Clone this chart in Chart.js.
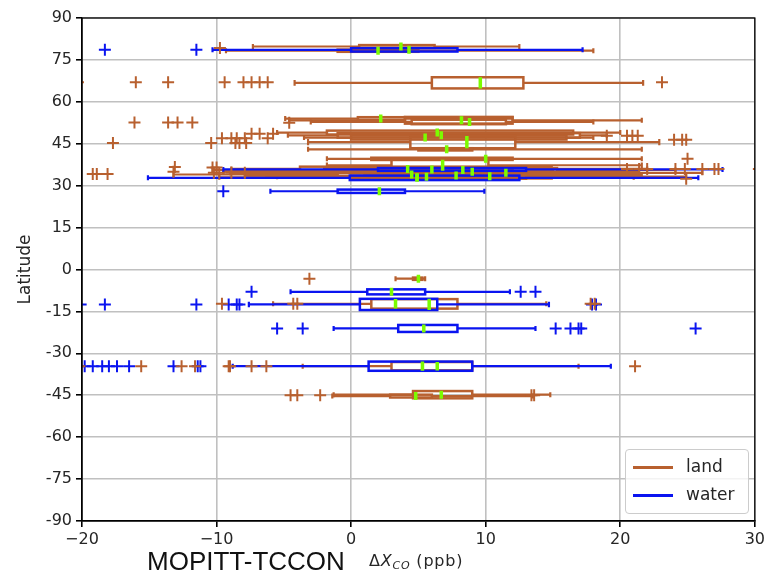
<!DOCTYPE html>
<html>
<head>
<meta charset="utf-8">
<title>MOPITT-TCCON ΔXco by latitude</title>
<script src="https://cdn.jsdelivr.net/npm/chart.js@4.4.1/dist/chart.umd.min.js"></script>
<style>
  html, body { margin: 0; padding: 0; background: #fff; }
  #wrap { position: relative; width: 768px; height: 582px; }
  #chart { position: absolute; left: 0; top: 0; }
  .legend {
    position: absolute; left: 625px; top: 449px; width: 122px; height: 63px;
    border: 1px solid #cccccc; border-radius: 4px; background: rgba(255,255,255,0.8);
    font-family: "DejaVu Sans", sans-serif; font-size: 17px; color: #262626;
  }
  .legend .row { position: absolute; left: 0; height: 20px; line-height: 20px; }
  .legend .swatch { position: absolute; left: 7px; top: 9px; width: 40px; height: 3px; }
  .legend .lbl { position: absolute; left: 60px; top: -1px; white-space: nowrap; }
  .xtitle {
    position: absolute; left: 147px; top: 546px; white-space: nowrap;
    font-family: "Liberation Sans", Arial, sans-serif; font-size: 26px; line-height: 30px; color: #111;
  }
  .xunit {
    position: absolute; left: 369px; top: 552px; white-space: nowrap; letter-spacing: 0.8px;
    font-family: "DejaVu Sans", sans-serif; font-size: 16px; line-height: 18px; color: #262626;
  }
  .xunit i { font-style: italic; }
  .xunit sub { font-size: 11px; font-style: italic; vertical-align: -3px; line-height: 0; }
</style>
</head>
<body>
<div id="wrap">
  <canvas id="chart" width="768" height="582"></canvas>
  <div class="legend">
    <div class="row" style="top:7px"><span class="swatch" style="background:#b8602f"></span><span class="lbl">land</span></div>
    <div class="row" style="top:35px"><span class="swatch" style="background:#0a14f0"></span><span class="lbl">water</span></div>
  </div>
  <div class="xtitle">MOPITT-TCCON</div>
  <div class="xunit">Δ<i>X</i><sub>CO</sub> (ppb)</div>
</div>
<script>
// Ticks
const xTicks = [-20, -10, 0, 10, 20, 30];
const latTicks = [90, 75, 60, 45, 30, 15, 0, -15, -30, -45, -60, -75, -90];

// Land sites: box statistics per latitude (ppb), span = box height in degrees
const landLat  = [79.8, 78.3, 66.8, 54.0, 53.4, 52.8, 49.0, 48.0, 47.2, 45.6, 43.0, 39.6, 37.3, 36.0, 35.6, 35.0, 34.6, 34.0, 33.6, 33.4, 33.2, 33.0, -3.3, -12.3, -34.6, -45.3, -44.8];
const landLow  = [-7.3, -9.3, -4.2, -4.9, -4.6, -3.0, -5.5, -4.7, -3.5, -3.2, -3.2, -1.8, -1.8, -8.9, -10.3, -9.5, -9.0, -13.2, -7.9, -6.3, -5.5, -9.8, 3.3, -5.8, -3.6, -1.4, -1.3];
const landQ1   = [0.6, -1.0, 6.0, 0.5, 4.0, 4.5, -1.8, -1.0, 0.0, 4.4, 5.0, 1.5, 3.0, -3.8, -2.0, 2.0, 5.0, -1.0, 3.0, 2.5, 1.0, 0.0, 4.6, 1.5, 3.0, 2.9, 4.6];
const landMed  = [3.7, 2.0, 9.6, 2.2, 8.2, 8.8, 6.4, 6.7, 5.5, 8.6, 7.1, 10.0, 6.8, 4.2, 8.3, 9.0, 11.5, 4.5, 7.8, 10.3, 5.6, 4.9, 5.0, 3.3, 6.4, 4.8, 6.7];
const landQ3   = [6.2, 5.0, 12.8, 4.0, 12.0, 11.5, 16.5, 17.0, 16.0, 12.2, 9.0, 12.0, 10.2, 14.9, 15.3, 12.0, 15.0, 11.0, 12.0, 14.9, 13.0, 9.0, 5.3, 7.9, 9.0, 6.0, 9.0];
const landHigh = [12.5, 18.0, 21.7, 12.0, 21.6, 18.0, 20.0, 19.0, 18.0, 22.9, 21.6, 21.6, 21.6, 22.0, 24.1, 21.4, 26.1, 21.5, 21.6, 20.5, 24.9, 21.0, 5.5, 14.5, 16.9, 13.5, 14.8];
const landSpan = [1.0, 0.8, 4.0, 1.0, 2.4, 1.6, 1.4, 1.6, 1.4, 4.4, 0.8, 0.8, 4.0, 1.6, 1.4, 1.6, 1.4, 1.8, 1.6, 1.6, 1.4, 1.2, 0.8, 3.4, 3.0, 1.0, 2.6];

// Ocean sites
const waterLat  = [78.6, 35.8, 32.8, 28.0, -8.0, -12.5, -21.1, -34.6];
const waterLow  = [-10.3, -9.5, -15.1, -6.0, -4.5, -7.6, -1.3, -8.8];
const waterQ1   = [0.0, 2.0, -0.1, -1.0, 1.2, 0.65, 3.5, 1.3];
const waterMed  = [4.3, 6.0, 4.9, 2.1, 3.0, 5.8, 5.4, 5.3];
const waterQ3   = [7.9, 13.0, 12.5, 4.0, 5.5, 6.4, 7.9, 9.0];
const waterHigh = [17.2, 27.6, 25.8, 9.9, 11.8, 14.7, 13.7, 19.3];
const waterSpan = [1.2, 1.0, 1.6, 1.2, 1.8, 4.0, 2.5, 3.3];

// Outliers (ΔXco, latitude)
const landOutX = [-9.75,
  -20.3, -16.0, -13.6, -9.4, -8.0, -7.4, -6.8, -6.2, 23.1,
  -16.1, -13.6, -12.9, -11.8, -4.6,
  -7.4, -6.8, -5.8,
  -9.6, -8.9, -8.5, -7.9, -6.2,
  -17.7, -10.4, -8.6, -8.3, -7.8,
  19.0, 20.5, 20.9, 21.3,
  24.0, 24.6, 24.9,
  25.0,
  -13.1, -13.2, -10.3, -10.0, -10.2, -9.8, -8.9, -7.9,
  -19.2, -18.9, -18.1,
  20.5, 21.4, 22.0, 24.1, 24.8, 26.1, 27.0, 27.3, 30.3,
  24.9,
  -3.1,
  -9.6, -4.3, -4.0, 17.8, 18.1,
  -20.2, -15.6, -12.6, -11.6, -9.1, -9.0, -7.4, -6.3, 21.1,
  -4.5, -4.0, -2.3, 13.4, 13.6];
const landOutLat = [79.3,
  67.0, 67.0, 67.0, 67.0, 67.0, 67.0, 67.0, 67.0, 67.0,
  52.6, 52.6, 52.6, 52.6, 52.5,
  48.6, 48.6, 48.6,
  47.0, 47.0, 47.0, 47.0, 47.0,
  45.3, 45.3, 45.3, 45.3, 45.3,
  47.9, 47.9, 47.9, 47.9,
  46.4, 46.4, 46.4,
  39.6,
  36.7, 35.0, 36.5, 36.5, 34.6, 34.6, 34.6, 34.6,
  34.2, 34.2, 34.2,
  36.0, 36.0, 36.0, 36.0, 36.0, 36.0, 36.0, 36.0, 36.0,
  32.5,
  -3.3,
  -12.3, -12.3, -12.3, -12.3, -12.3,
  -34.6, -34.6, -34.6, -34.6, -34.6, -34.6, -34.6, -34.6, -34.6,
  -45.0, -45.0, -45.0, -45.0, -45.0];

const waterOutX = [-18.3, -11.5,
  -9.5,
  -7.4, 12.6, 13.7,
  -20.1, -18.3, -11.5, -9.1, -8.5, -8.3, 17.9, 18.2,
  -5.5, -3.6, 15.2, 16.3, 16.9, 17.1, 25.6,
  -19.8, -19.2, -18.5, -18.0, -17.4, -16.5, -13.2, -11.4, -11.2];
const waterOutLat = [78.6, 78.6,
  28.0,
  -8.0, -8.0, -8.0,
  -12.5, -12.5, -12.5, -12.5, -12.5, -12.5, -12.5, -12.5,
  -21.1, -21.1, -21.1, -21.1, -21.1, -21.1, -21.1,
  -34.6, -34.6, -34.6, -34.6, -34.6, -34.6, -34.6, -34.6, -34.6];

const LAND = '#b8602f';
const WATER = '#0a14f0';
const MEDIAN = '#7cfc00';

function toPoints(xs, ys) {
  return xs.map((x, i) => ({ x: x, y: ys[i] }));
}

function makeSeries(lat, low, q1, med, q3, high, span, color) {
  return lat.map((l, i) => ({ lat: l, low: low[i], q1: q1[i], med: med[i], q3: q3[i], high: high[i], span: span[i], color: color }));
}

const landBoxes = makeSeries(landLat, landLow, landQ1, landMed, landQ3, landHigh, landSpan, LAND);
const waterBoxes = makeSeries(waterLat, waterLow, waterQ1, waterMed, waterQ3, waterHigh, waterSpan, WATER);

// Horizontal box plots drawn through the chart's scales
const boxPlotPlugin = {
  id: 'boxPlots',
  beforeDatasetsDraw(chart) {
    const { ctx, chartArea, scales: { x, y } } = chart;
    ctx.save();
    ctx.beginPath();
    ctx.rect(chartArea.left, chartArea.top, chartArea.right - chartArea.left, chartArea.bottom - chartArea.top);
    ctx.clip();

    const drawBox = b => {
      const yc = y.getPixelForValue(b.lat);
      const yt = y.getPixelForValue(b.lat + b.span / 2);
      const yb = y.getPixelForValue(b.lat - b.span / 2);
      const ct = y.getPixelForValue(b.lat + b.span / 4);
      const cb = y.getPixelForValue(b.lat - b.span / 4);
      const xl = x.getPixelForValue(b.low);
      const x1 = x.getPixelForValue(b.q1);
      const x3 = x.getPixelForValue(b.q3);
      const xh = x.getPixelForValue(b.high);
      ctx.strokeStyle = b.color;
      ctx.lineWidth = 2.2;
      ctx.beginPath();
      // whiskers
      ctx.moveTo(xl, yc); ctx.lineTo(x1, yc);
      ctx.moveTo(x3, yc); ctx.lineTo(xh, yc);
      // caps
      ctx.moveTo(xl, Math.min(ct, yc - 2.5)); ctx.lineTo(xl, Math.max(cb, yc + 2.5));
      ctx.moveTo(xh, Math.min(ct, yc - 2.5)); ctx.lineTo(xh, Math.max(cb, yc + 2.5));
      ctx.stroke();
      ctx.lineWidth = 2.5;
      ctx.strokeRect(x1, yt, x3 - x1, yb - yt);
    };

    landBoxes.forEach(drawBox);
    waterBoxes.forEach(drawBox);

    // medians on top, never shorter than a few pixels
    ctx.strokeStyle = MEDIAN;
    ctx.lineWidth = 3.5;
    landBoxes.concat(waterBoxes).forEach(b => {
      const xm = x.getPixelForValue(b.med);
      const top = Math.min(y.getPixelForValue(b.lat + b.span / 2), y.getPixelForValue(b.lat) - 4);
      const bot = Math.max(y.getPixelForValue(b.lat - b.span / 2), y.getPixelForValue(b.lat) + 4);
      ctx.beginPath();
      ctx.moveTo(xm, top);
      ctx.lineTo(xm, bot);
      ctx.stroke();
    });
    ctx.restore();
  }
};

// Full frame round the plot area
const framePlugin = {
  id: 'frame',
  afterDraw(chart) {
    const { ctx, chartArea } = chart;
    ctx.save();
    ctx.strokeStyle = '#000';
    ctx.lineWidth = 1.3;
    ctx.strokeRect(chartArea.left, chartArea.top, chartArea.right - chartArea.left, chartArea.bottom - chartArea.top);
    ctx.restore();
  }
};

const tickFont = { family: 'DejaVu Sans', size: 16 };

const ctx = document.getElementById('chart').getContext('2d');
new Chart(ctx, {
  type: 'scatter',
  data: {
    datasets: [
      {
        label: 'land',
        data: toPoints(landOutX, landOutLat),
        pointStyle: 'cross',
        pointRadius: 6,
        borderWidth: 2,
        borderColor: LAND,
        backgroundColor: LAND
      },
      {
        label: 'water',
        data: toPoints(waterOutX, waterOutLat),
        pointStyle: 'cross',
        pointRadius: 6,
        borderWidth: 2,
        borderColor: WATER,
        backgroundColor: WATER
      }
    ]
  },
  options: {
    responsive: false,
    animation: false,
    events: [],
    layout: { padding: { top: 18, right: 13, left: 0, bottom: 0 } },
    plugins: {
      legend: { display: false },
      tooltip: { enabled: false }
    },
    scales: {
      x: {
        type: 'linear',
        min: -20,
        max: 30,
        afterBuildTicks: axis => { axis.ticks = xTicks.map(v => ({ value: v })); },
        afterFit: axis => { axis.height = 61; },
        ticks: {
          font: tickFont,
          color: '#262626',
          padding: 3,
          callback: v => (v < 0 ? '\u2212' + Math.abs(v) : String(v))
        },
        grid: { color: '#c0c0c0', lineWidth: 1.6, tickColor: '#000', tickLength: 6 },
        border: { color: '#000', width: 1.3 }
      },
      y: {
        type: 'linear',
        min: -90,
        max: 90,
        afterBuildTicks: axis => { axis.ticks = latTicks.map(v => ({ value: v })); },
        afterFit: axis => { axis.width = 82; },
        ticks: {
          font: tickFont,
          color: '#262626',
          padding: 4,
          callback: v => String(v)
        },
        title: {
          display: true,
          text: 'Latitude',
          font: { family: 'DejaVu Sans', size: 17 },
          color: '#262626',
          padding: { top: 15, bottom: 0 }
        },
        grid: { color: '#c0c0c0', lineWidth: 1.6, tickColor: '#000', tickLength: 6 },
        border: { color: '#000', width: 1.3 }
      }
    }
  },
  plugins: [boxPlotPlugin, framePlugin]
});
</script>
</body>
</html>
